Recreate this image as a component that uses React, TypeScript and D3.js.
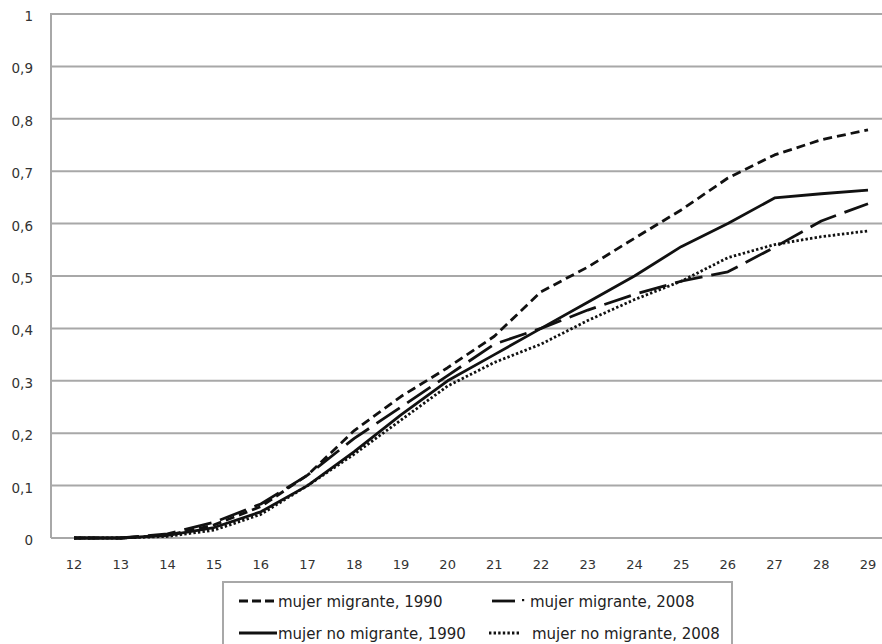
import React from "react";
import * as d3 from "d3";

const ages = [12, 13, 14, 15, 16, 17, 18, 19, 20, 21, 22, 23, 24, 25, 26, 27, 28, 29];
const migrante1990 = [0, 0, 0.005, 0.025, 0.06, 0.12, 0.205, 0.27, 0.325, 0.385, 0.47, 0.517, 0.572, 0.626, 0.687, 0.731, 0.76, 0.779];
const migrante2008 = [0, 0, 0.008, 0.03, 0.065, 0.12, 0.19, 0.25, 0.31, 0.37, 0.4, 0.435, 0.465, 0.49, 0.508, 0.555, 0.605, 0.638];
const noMigrante1990 = [0, 0, 0.005, 0.02, 0.05, 0.1, 0.165, 0.235, 0.3, 0.35, 0.4, 0.45, 0.5, 0.556, 0.6, 0.649, 0.657, 0.664];
const noMigrante2008 = [0, 0, 0.003, 0.015, 0.045, 0.1, 0.16, 0.225, 0.29, 0.335, 0.37, 0.415, 0.455, 0.49, 0.535, 0.56, 0.575, 0.586];
const yTicks = [0, 0.1, 0.2, 0.3, 0.4, 0.5, 0.6, 0.7, 0.8, 0.9, 1];
const yTickLabels = ["0", "0,1", "0,2", "0,3", "0,4", "0,5", "0,6", "0,7", "0,8", "0,9", "1"];

type Style = "dash" | "longdash" | "solid" | "dot";
const series: { name: string; values: number[]; style: Style }[] = [
  { name: "mujer migrante, 1990", values: migrante1990, style: "dash" },
  { name: "mujer migrante, 2008", values: migrante2008, style: "longdash" },
  { name: "mujer no migrante, 1990", values: noMigrante1990, style: "solid" },
  { name: "mujer no migrante, 2008", values: noMigrante2008, style: "dot" },
];

const dashFor: Record<Style, string> = {
  dash: "9,5",
  longdash: "28,9",
  solid: "none",
  dot: "2.4,2.2",
};

export default function App() {
  const W = 882, H = 644;
  const x = d3.scalePoint<number>().domain(ages).range([74, 868]);
  const y = d3.scaleLinear().domain([0, 1]).range([538, 14]);
  const line = d3.line<number>().x((_, i) => x(ages[i]) as number).y((d) => y(d));
  const font = "'DejaVu Sans', sans-serif";
  const grid = "#a8a8a8";

  const legendItems = [
    { s: series[0], lx: 239, ly: 607, len: 35, tx: 278 },
    { s: series[1], lx: 492, ly: 607, len: 23, tx: 530 },
    { s: series[2], lx: 239, ly: 639, len: 38, tx: 278 },
    { s: series[3], lx: 489, ly: 639, len: 31, tx: 532 },
  ];

  return (
    <svg width={W} height={H} style={{ position: "absolute", left: 0, top: 0, background: "#fff" }}>
      <rect x={0} y={0} width={W} height={H} fill="#fff" />
      {yTicks.map((t, i) => (
        <g key={t}>
          <line x1={51} x2={W} y1={y(t)} y2={y(t)} stroke={grid} strokeWidth={2} />
          <text x={33} y={y(t) + 7} textAnchor="end" fontFamily={font} fontSize={13.5} fill="#333">
            {yTickLabels[i]}
          </text>
        </g>
      ))}
      <line x1={51} x2={51} y1={y(1) - 1} y2={y(0)} stroke={grid} strokeWidth={2} />
      {ages.map((a) => (
        <text key={a} x={x(a)} y={569} textAnchor="middle" fontFamily={font} fontSize={13} fill="#333">
          {a}
        </text>
      ))}
      {series.map((s) => (
        <path
          key={s.name}
          d={line(s.values) || ""}
          fill="none"
          stroke="#111"
          strokeWidth={2.8}
          strokeDasharray={dashFor[s.style]}
          strokeLinejoin="round"
        />
      ))}
      <rect x={223} y={582} width={509} height={80} fill="#fff" stroke={grid} strokeWidth={2} />
      {legendItems.map(({ s, lx, ly, len, tx }) => {
        const isLong = s.style === "longdash";
        const sampleDash = s.style === "dash" ? "9,4" : s.style === "dot" ? "2.4,2.2" : "none";
        return (
          <g key={s.name}>
            <line
              x1={lx}
              x2={lx + len}
              y1={ly - 6}
              y2={ly - 6}
              stroke="#111"
              strokeWidth={2.8}
              strokeDasharray={sampleDash}
            />
            {isLong && <rect x={lx + 30} y={ly - 8} width={2.2} height={2.2} fill="#111" />}
            <text x={tx} y={ly} fontFamily={font} fontSize={15} fill="#222">
              {s.name}
            </text>
          </g>
        );
      })}
    </svg>
  );
}
